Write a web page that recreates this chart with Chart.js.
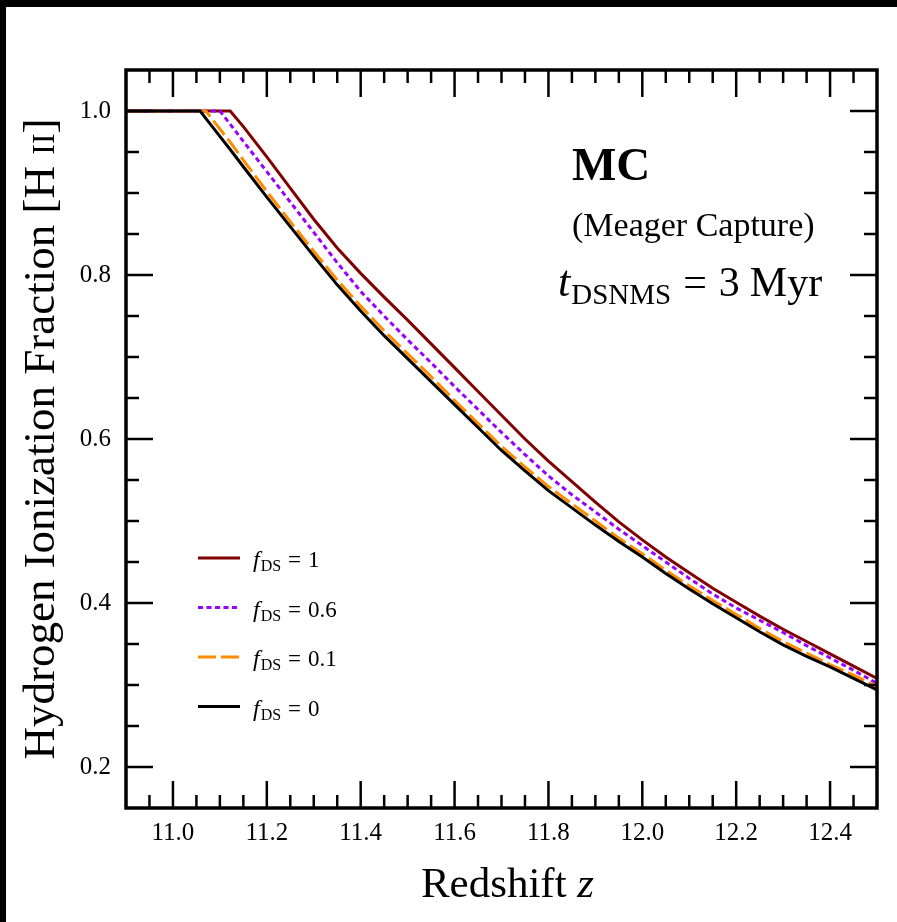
<!DOCTYPE html>
<html>
<head>
<meta charset="utf-8">
<script src="https://cdn.jsdelivr.net/npm/chart.js@4"></script>
<style>
  html, body { margin: 0; padding: 0; background: #fff; }
  canvas { display: block; }
</style>
</head>
<body>
<canvas id="ionChart" width="897" height="922"></canvas>
<script>
// redshift grid (includes the points where each curve leaves 1.0)
const redshift = [10.9, 11.0, 11.058, 11.07, 11.1, 11.122, 11.15, 11.2, 11.25, 11.3, 11.35, 11.4,
  11.45, 11.5, 11.55, 11.6, 11.65, 11.7, 11.75, 11.8, 11.85, 11.9, 11.95, 12.0, 12.05, 12.1,
  12.15, 12.2, 12.25, 12.3, 12.35, 12.4, 12.45, 12.5];

const fds1 = [1, 1, 1, 1, 1, 1, 0.981, 0.944, 0.906, 0.868, 0.833, 0.802,
  0.773, 0.745, 0.716, 0.687, 0.658, 0.629, 0.600, 0.573, 0.548, 0.523, 0.499, 0.477, 0.456, 0.437,
  0.418, 0.401, 0.384, 0.368, 0.353, 0.338, 0.323, 0.308];

const fds06 = [1, 1, 1, 1, 1, 0.984, 0.963, 0.926, 0.889, 0.852, 0.815, 0.780,
  0.750, 0.721, 0.693, 0.664, 0.636, 0.608, 0.581, 0.555, 0.532, 0.511, 0.490, 0.470, 0.450, 0.430,
  0.411, 0.394, 0.379, 0.364, 0.348, 0.333, 0.318, 0.302];

const fds01 = [1, 1, 1, 1, 0.978, 0.962, 0.940, 0.902, 0.865, 0.829, 0.794, 0.762,
  0.732, 0.704, 0.676, 0.647, 0.619, 0.591, 0.566, 0.542, 0.521, 0.500, 0.479, 0.460, 0.440, 0.421,
  0.403, 0.386, 0.369, 0.353, 0.339, 0.325, 0.312, 0.298];

const fds0 = [1, 1, 1, 0.991, 0.969, 0.953, 0.932, 0.895, 0.859, 0.823, 0.788, 0.756,
  0.726, 0.698, 0.670, 0.642, 0.614, 0.586, 0.561, 0.537, 0.516, 0.495, 0.475, 0.456, 0.436, 0.417,
  0.399, 0.382, 0.365, 0.349, 0.335, 0.322, 0.308, 0.294];

const seriesLabels = ["1", "0.6", "0.1", "0"];
const xTicks = [11.0, 11.2, 11.4, 11.6, 11.8, 12.0, 12.2, 12.4];
const yTicks = [0.2, 0.4, 0.6, 0.8, 1.0];
const minorStep = 0.05;

const SERIF = "'Liberation Serif', 'DejaVu Serif', serif";

const pts = (vals) => redshift.map((z, i) => ({ x: z, y: vals[i] }));

// draw a run of text pieces (for italics / subscripts)
function drawRuns(ctx, x, y, runs) {
  runs.forEach((r) => {
    ctx.font = r.font;
    ctx.fillText(r.t, x, y + (r.dy || 0));
    x += ctx.measureText(r.t).width + (r.gap || 0);
  });
  return x;
}
function runsWidth(ctx, runs) {
  let w = 0;
  runs.forEach((r) => { ctx.font = r.font; w += ctx.measureText(r.t).width + (r.gap || 0); });
  return w;
}

const line = (ctx, x1, y1, x2, y2) => {
  ctx.beginPath();
  ctx.moveTo(x1, y1);
  ctx.lineTo(x2, y2);
  ctx.stroke();
};

const ctx = document.getElementById("ionChart").getContext("2d");

new Chart(ctx, {
  type: "line",
  data: {
    datasets: [
      { label: seriesLabels[0], data: pts(fds1), borderColor: "#800000", borderWidth: 3, order: 3 },
      { label: seriesLabels[1], data: pts(fds06), borderColor: "#9900ff", borderWidth: 3,
        borderDash: [5, 3.5], order: 2 },
      { label: seriesLabels[2], data: pts(fds01), borderColor: "#ff8c00", borderWidth: 3,
        borderDash: [18, 5], order: 1 },
      { label: seriesLabels[3], data: pts(fds0), borderColor: "#000000", borderWidth: 3, order: 0 },
    ],
  },
  options: {
    responsive: false,
    animation: false,
    elements: { point: { radius: 0, hoverRadius: 0 }, line: { tension: 0, fill: false } },
    layout: { padding: { top: 70, right: 20, left: 0, bottom: 0 } },
    plugins: { legend: { display: false }, tooltip: { enabled: false } },
    scales: {
      x: {
        type: "linear",
        min: 10.9,
        max: 12.5,
        afterBuildTicks: (s) => { s.ticks = xTicks.map((v) => ({ value: v })); },
        afterFit: (s) => { s.height = 114; },
        grid: { display: false, drawTicks: false },
        border: { display: false },
        ticks: {
          padding: 10,
          color: "#000",
          font: { family: SERIF, size: 25 },
          callback: (v) => Number(v).toFixed(1),
        },
      },
      y: {
        type: "linear",
        min: 0.15,
        max: 1.05,
        afterBuildTicks: (s) => { s.ticks = yTicks.map((v) => ({ value: v })); },
        afterFit: (s) => { s.width = 126; },
        grid: { display: false, drawTicks: false },
        border: { display: false },
        ticks: {
          padding: 15,
          color: "#000",
          font: { family: SERIF, size: 25 },
          callback: (v) => Number(v).toFixed(1),
        },
      },
    },
  },
  plugins: [
    {
      id: "background",
      beforeDraw: (chart) => {
        const { ctx, width, height } = chart;
        ctx.save();
        ctx.fillStyle = "#fff";
        ctx.fillRect(0, 0, width, height);
        ctx.fillStyle = "#000";
        ctx.fillRect(0, 0, width, 7);
        ctx.fillRect(0, 0, 6, height);
        ctx.restore();
      },
    },
    {
      id: "frameAndText",
      afterDraw: (chart) => {
        const { ctx } = chart;
        const a = chart.chartArea;
        const xs = chart.scales.x, ys = chart.scales.y;
        ctx.save();
        ctx.strokeStyle = "#000";
        ctx.fillStyle = "#000";

        // inward ticks on all four sides
        ctx.lineWidth = 2.5;
        const isMajor = (list, v) => list.some((t) => Math.abs(t - v) < 1e-6);
        for (let k = 1; ; k++) {
          const v = Math.round((xs.min + k * minorStep) * 1000) / 1000;
          if (v >= xs.max - 1e-6) break;
          const px = xs.getPixelForValue(v);
          const L = isMajor(xTicks, v) ? 27 : 13;
          line(ctx, px, a.bottom, px, a.bottom - L);
          line(ctx, px, a.top, px, a.top + L);
        }
        for (let k = 1; ; k++) {
          const v = Math.round((ys.min + k * minorStep) * 1000) / 1000;
          if (v >= ys.max - 1e-6) break;
          const py = ys.getPixelForValue(v);
          const L = isMajor(yTicks, v) ? 27 : 13;
          line(ctx, a.left, py, a.left + L, py);
          line(ctx, a.right, py, a.right - L, py);
        }

        // frame
        ctx.lineWidth = 3.5;
        ctx.strokeRect(a.left, a.top, a.right - a.left, a.bottom - a.top);

        // legend
        ctx.textBaseline = "alphabetic";
        ctx.textAlign = "left";
        chart.data.datasets.forEach((ds, i) => {
          const y = a.top + 488 + i * 49.5;
          ctx.lineWidth = 3;
          ctx.strokeStyle = ds.borderColor;
          ctx.setLineDash(ds.borderDash || []);
          line(ctx, a.left + 72, y, a.left + 114, y);
          ctx.setLineDash([]);
          ctx.fillStyle = "#000";
          drawRuns(ctx, a.left + 127, y + 9, [
            { t: "f", font: `italic 24px ${SERIF}`, gap: 1 },
            { t: "DS", font: `16px ${SERIF}`, dy: 4, gap: 7 },
            { t: "=", font: `23px ${SERIF}`, gap: 7 },
            { t: ds.label, font: `23px ${SERIF}` },
          ]);
        });

        // annotations
        ctx.fillStyle = "#000";
        ctx.font = `bold 47px ${SERIF}`;
        ctx.fillText("MC", a.left + 446, a.top + 110);
        ctx.font = `34px ${SERIF}`;
        ctx.fillText("(Meager Capture)", a.left + 446, a.top + 166);
        drawRuns(ctx, a.left + 432, a.top + 226, [
          { t: "t", font: `italic 44px ${SERIF}`, gap: 1 },
          { t: "DSNMS", font: `29px ${SERIF}`, dy: 8, gap: 12 },
          { t: "=", font: `42px ${SERIF}`, gap: 12 },
          { t: "3", font: `42px ${SERIF}`, gap: 10 },
          { t: "Myr", font: `42px ${SERIF}` },
        ]);

        // x axis title
        const xRuns = [
          { t: "Redshift ", font: `43px ${SERIF}` },
          { t: "z", font: `italic 43px ${SERIF}` },
        ];
        const cx = (a.left + a.right) / 2;
        drawRuns(ctx, cx + 6 - runsWidth(ctx, xRuns) / 2, 897, xRuns);

        // y axis title (rotated)
        const yRuns = [
          { t: "Hydrogen Ionization Fraction [H ", font: `45px ${SERIF}` },
          { t: "II", font: `32px ${SERIF}` },
          { t: "]", font: `45px ${SERIF}` },
        ];
        const cy = (a.top + a.bottom) / 2;
        ctx.translate(54, cy);
        ctx.rotate(-Math.PI / 2);
        drawRuns(ctx, -runsWidth(ctx, yRuns) / 2, 0, yRuns);
        ctx.restore();
      },
    },
  ],
});
</script>
</body>
</html>
